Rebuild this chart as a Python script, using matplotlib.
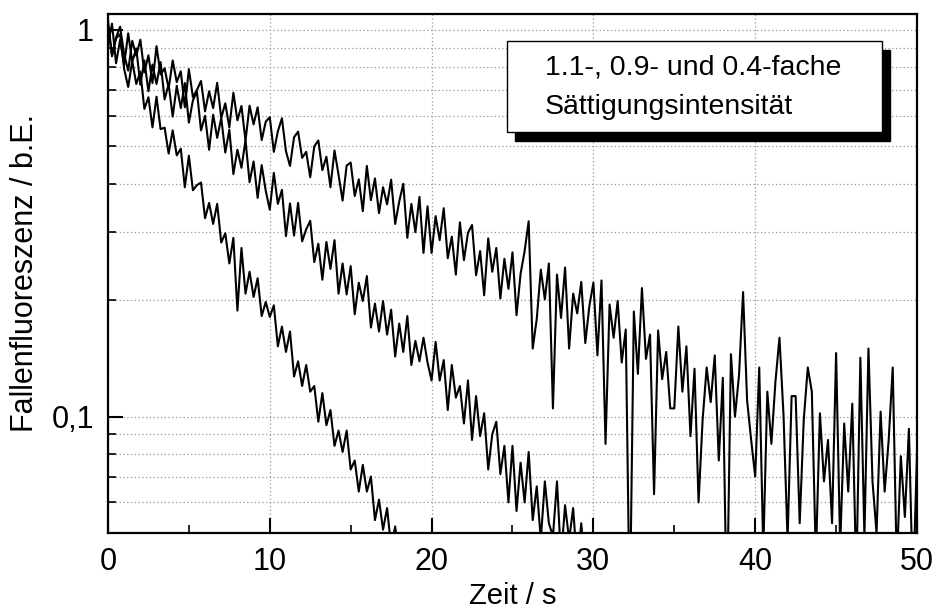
import numpy as np
import matplotlib.pyplot as plt
from matplotlib.patches import Rectangle
from matplotlib.ticker import FixedLocator, NullFormatter

plt.rcParams['font.family'] = ['Liberation Sans', 'DejaVu Sans']

# trap fluorescence, sampled every 0.25 s, values in 1/1000 (arb. units)
# 1.1-fold saturation intensity (slowest decay), 0 ... 50 s
trace_11 = [1026, 859, 956, 1020, 864, 785, 937, 858, 944, 777,
            860, 729, 908, 767, 796, 705, 834, 733, 782, 631,
            792, 670, 700, 738, 616, 694, 628, 730, 592, 646,
            560, 688, 584, 636, 517, 637, 570, 631, 519, 579,
            595, 484, 547, 591, 486, 445, 528, 546, 467, 484,
            416, 500, 518, 434, 470, 392, 488, 422, 362, 446,
            454, 372, 411, 340, 445, 363, 413, 336, 392, 354,
            410, 315, 360, 400, 290, 355, 300, 370, 265, 350,
            265, 330, 286, 346, 257, 292, 233, 318, 254, 299,
            313, 232, 268, 206, 289, 237, 273, 202, 256, 214,
            266, 183, 234, 268, 320, 150, 179, 240, 201, 249,
            105, 233, 180, 243, 150, 208, 185, 223, 155, 193,
            222, 144, 225, 85, 195, 160, 199, 138, 168, 30,
            187, 129, 215, 141, 163, 63, 167, 125, 147, 105,
            105, 171, 116, 152, 89, 133, 60, 98, 134, 109,
            144, 77, 126, 30, 145, 100, 128, 210, 110, 87,
            70, 134, 45, 116, 85, 123, 160, 101, 48, 113,
            113, 53, 98, 134, 116, 43, 102, 68, 87, 53,
            146, 46, 96, 64, 108, 38, 142, 49, 150, 68,
            50, 103, 64, 87, 134, 41, 79, 55, 93, 35, 80]

# 0.9-fold saturation intensity, 0 ... 30 s
trace_09 = [915, 1038, 820, 943, 813, 980, 828, 896, 722, 834,
            694, 814, 725, 826, 661, 724, 597, 717, 628, 729,
            576, 658, 692, 550, 600, 490, 604, 526, 592, 482,
            552, 424, 490, 440, 519, 404, 457, 368, 447, 384,
            343, 427, 355, 386, 293, 356, 294, 357, 284, 305,
            321, 251, 280, 226, 283, 241, 286, 208, 249, 207,
            245, 184, 222, 199, 231, 170, 196, 166, 199, 163,
            189, 143, 174, 147, 182, 136, 157, 139, 160, 138,
            124, 156, 124, 140, 104, 136, 112, 120, 96, 124,
            87, 113, 89, 102, 73, 90, 97, 71, 84, 60,
            84, 57, 76, 60, 81, 54, 66, 48, 68, 53,
            49, 68, 43, 59, 48, 58, 41, 53, 40, 50, 38]

# 0.4-fold saturation intensity, 0 ... 18 s
trace_04 = [1060, 855, 952, 975, 793, 712, 831, 725, 780, 625,
            670, 560, 672, 554, 559, 479, 550, 474, 493, 392,
            473, 385, 397, 403, 326, 357, 315, 355, 282, 298,
            249, 290, 188, 273, 208, 237, 204, 228, 182, 198,
            181, 194, 152, 171, 147, 166, 127, 139, 120, 136,
            116, 120, 97, 115, 95, 104, 84, 92, 81, 92,
            73, 77, 64, 75, 64, 70, 54, 61, 51, 58,
            46, 52, 43]

dt = 0.25
y_ticks = [0.1, 1]
y_ticklabels = ['0,1', '1']
legend_lines = ['1.1-, 0.9- und 0.4-fache', 'Sättigungsintensität']

fig = plt.figure(figsize=(9.34, 6.13), dpi=100)
ax = fig.add_axes([0.1156, 0.1305, 0.8662, 0.8467])

for tr in (trace_04, trace_09, trace_11):
    y = np.array(tr) / 1000.0
    t = np.arange(len(y)) * dt
    ax.plot(t, y, color='black', lw=1.5)

ax.set_yscale('log')
ax.set_xlim(0, 50)
ax.set_ylim(0.05, 1.1)

ax.set_xticks([0, 10, 20, 30, 40, 50])
ax.set_xticks([5, 15, 25, 35, 45], minor=True)
ax.yaxis.set_major_locator(FixedLocator(y_ticks))
ax.set_yticklabels(y_ticklabels)
ax.yaxis.set_minor_locator(FixedLocator([0.06, 0.07, 0.08, 0.09, 0.2, 0.3, 0.4, 0.5, 0.6, 0.7, 0.8, 0.9]))
ax.yaxis.set_minor_formatter(NullFormatter())

ax.tick_params(which='major', direction='in', length=11, width=1.5, labelsize=22, pad=10,
               top=False, right=False)
ax.tick_params(which='minor', direction='in', length=6, width=1.2, top=False, right=False)

ax.grid(True, which='major', axis='x', color='#999999', ls=(0, (1, 2)), lw=0.9)
ax.grid(True, which='both', axis='y', color='#999999', ls=(0, (1, 2)), lw=0.9)
ax.set_axisbelow(True)

for s in ax.spines.values():
    s.set_linewidth(1.6)

ax.set_xlabel('Zeit / s', fontsize=21, labelpad=4)
ax.set_ylabel('Fallenfluoreszenz / b.E.', fontsize=22, labelpad=8)

# legend box with shadow
ax.add_patch(Rectangle((0.503, 0.7553), 0.4636, 0.1753, transform=ax.transAxes,
                       facecolor='black', edgecolor='black', zorder=5))
ax.add_patch(Rectangle((0.4932, 0.7726), 0.4635, 0.1754, transform=ax.transAxes,
                       facecolor='white', edgecolor='black', lw=1.0, zorder=6))
ax.text(0.540, 0.896, legend_lines[0], transform=ax.transAxes, fontsize=20.5,
        va='center', ha='left', zorder=7)
ax.text(0.540, 0.821, legend_lines[1], transform=ax.transAxes, fontsize=20.5,
        va='center', ha='left', zorder=7)

fig.savefig('out.png', dpi=100)
